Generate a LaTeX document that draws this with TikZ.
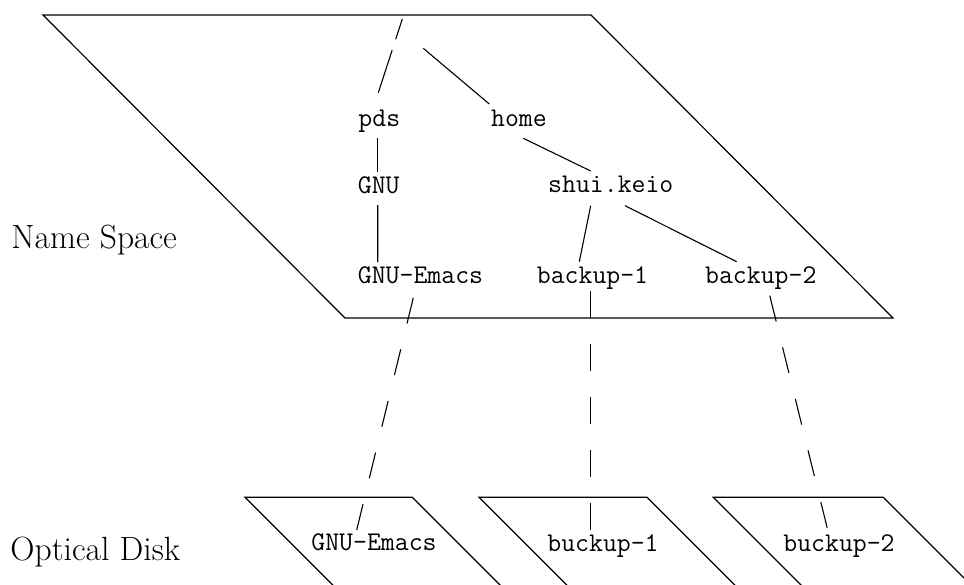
\documentclass[tikz,border=0pt]{standalone}
\usepackage{fontspec}
\usetikzlibrary{calc}
\begin{document}
\begin{tikzpicture}[x=0.5pt,y=-0.5pt,
  plane/.style={line width=0.6pt},
  edge/.style={line width=0.55pt},
  link/.style={line width=0.55pt, dash pattern=on 13.28pt off 13.28pt},
  dirname/.style={font=\fontsize{13.5}{15}\selectfont\ttfamily, inner sep=0pt, anchor=base},
  layer/.style={font=\fontsize{16.8}{19}\selectfont, inner sep=0pt, anchor=base west}]
\useasboundingbox (0,0) rectangle (964,584);
\clip (0,0) rectangle (964,584);

% name space plane
\draw[plane] (43,15) -- (591,15) -- (893,318) -- (345,318) -- cycle;
% optical disk planes (lower edges run off the page)
\foreach \xa/\xb in {245/412.3, 479/647, 713.3/883.3}
  \draw[plane] (\xa+110,607.3) -- (\xa,497.3) -- (\xb,497.3) -- (\xb+110,607.3);

% layer captions
\node[layer] (ns) at (11,248.3) {Name Space};
\node[layer] (od) at (10,560) {Optical Disk};

% directory tree
\coordinate (rootA) at (402.3,19);
\coordinate (rootB) at (423.3,48.3);
\node[dirname] (pds)  at (379.3,126) {pds};
\node[dirname] (home) at (518.9,126) {home};
\node[dirname] (gnu)  at (378.7,193.3) {GNU};
\node[dirname] (shui) at (610.8,192.7) {shui.keio};
\node[dirname] (ge)   at (420.5,283.3) {GNU-Emacs};
\node[dirname] (b1)   at (592.5,283) {backup-1};
\node[dirname] (b2)   at (760.8,283) {backup-2};

% files on the disks
\node[dirname] (dge) at (374,550) {GNU-Emacs};
\node[dirname] (db1) at (603,551.5) {buckup-1};
\node[dirname] (db2) at (839,551.5) {buckup-2};

% tree edges
\draw[edge, dash pattern=on 10.65pt off 5.75pt on 22.35pt off 20pt]
  (rootA) -- ($(pds.base)+(-1,-33.3)$);
\draw[edge] (rootB) -- ($(home.base)+(-29.6,-22)$);
\draw[edge] ($(pds.base)+(-1.6,12.3)$) -- ($(gnu.base)+(-1,-21.3)$);
\draw[edge] ($(gnu.base)+(-1,11.7)$) -- ($(ge.base)+(-42.8,-21.3)$);
\draw[edge] ($(home.base)+(4.4,12.3)$) -- ($(shui.base)+(-20.1,-21.7)$);
\draw[edge] ($(shui.base)+(-20.1,13)$) -- ($(b1.base)+(-13.2,-21.3)$);
\draw[edge] ($(shui.base)+(14.2,13)$) -- ($(b2.base)+(-24.1,-21.3)$);

% mappings from names to disk files
\draw[link] ($(ge.base)+(-7.2,14.4)$) -- ($(dge.base)+(-17.3,-20)$);
\draw[link] ($(b1.base)+(-2.2,8)$) -- ($(db1.base)+(-12.7,-21.5)$);
\draw[link] ($(b2.base)+(9,12.7)$) -- ($(db2.base)+(-11.7,-23.2)$);
\end{tikzpicture}
\end{document}
